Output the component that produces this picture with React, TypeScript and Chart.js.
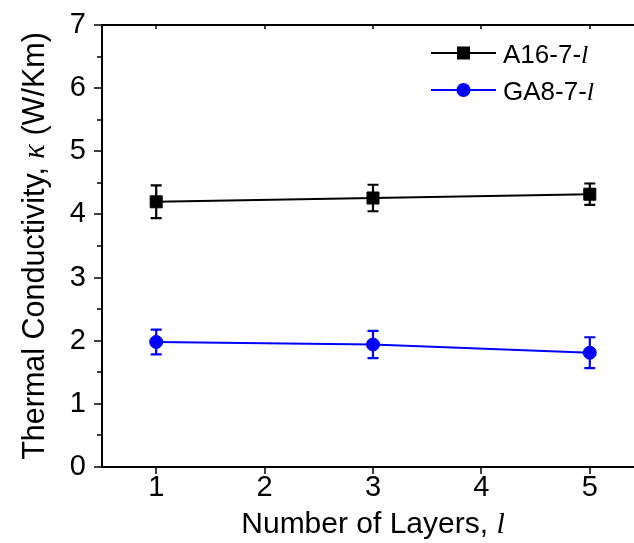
import { useEffect, useRef } from "react";
import { Chart, registerables } from "chart.js";

Chart.register(...registerables);

// Thermal conductivity (W/Km) versus number of layers
const layers = [1, 3, 5];
const a16Kappa = [4.2, 4.26, 4.32];
const a16Err = [0.26, 0.21, 0.17];
const ga8Kappa = [1.98, 1.94, 1.81];
const ga8Err = [0.195, 0.215, 0.245];

const xTickValues = [1, 2, 3, 4, 5];
const yTickValues = [0, 1, 2, 3, 4, 5, 6, 7];
const yMinorTickValues = [0.5, 1.5, 2.5, 3.5, 4.5, 5.5, 6.5];

const SANS = "Arial, 'Liberation Sans', sans-serif";
const SERIF = "'Times New Roman', 'Liberation Serif', serif";

type Run = { text: string; font: string };

function drawRuns(ctx: CanvasRenderingContext2D, runs: Run[], cx: number, y: number) {
  let total = 0;
  const widths = runs.map((r) => {
    ctx.font = r.font;
    const w = ctx.measureText(r.text).width;
    total += w;
    return w;
  });
  let x = cx - total / 2;
  ctx.textAlign = "left";
  runs.forEach((r, i) => {
    ctx.font = r.font;
    ctx.fillText(r.text, x, y);
    x += widths[i];
  });
}

function drawRunsLeft(ctx: CanvasRenderingContext2D, runs: Run[], x: number, y: number) {
  ctx.textAlign = "left";
  runs.forEach((r) => {
    ctx.font = r.font;
    ctx.fillText(r.text, x, y);
    x += ctx.measureText(r.text).width;
  });
}

const errorBarPlugin = {
  id: "errorBars",
  beforeDatasetDraw(chart: any, args: any) {
    const ds = chart.data.datasets[args.index];
    const errs: number[] | undefined = ds.errors;
    if (!errs) return;
    const { ctx, scales } = chart;
    const xs = scales.x;
    const ys = scales.y;
    ctx.save();
    ctx.strokeStyle = ds.borderColor;
    ctx.lineWidth = 2.2;
    ds.data.forEach((p: { x: number; y: number }, i: number) => {
      const px = xs.getPixelForValue(p.x);
      const top = ys.getPixelForValue(p.y + errs[i]);
      const bot = ys.getPixelForValue(p.y - errs[i]);
      ctx.beginPath();
      ctx.moveTo(px, top);
      ctx.lineTo(px, bot);
      ctx.moveTo(px - 5.5, top);
      ctx.lineTo(px + 5.5, top);
      ctx.moveTo(px - 5.5, bot);
      ctx.lineTo(px + 5.5, bot);
      ctx.stroke();
    });
    ctx.restore();
  },
};

const framePlugin = {
  id: "frame",
  afterDraw(chart: any) {
    const { ctx, chartArea: a, scales } = chart;
    const xs = scales.x;
    const ys = scales.y;
    ctx.save();
    ctx.strokeStyle = "#000";
    ctx.lineWidth = 2;
    ctx.beginPath();
    ctx.rect(a.left, a.top, a.right - a.left, a.bottom - a.top);
    ctx.stroke();
    ctx.lineWidth = 1.5;
    ctx.beginPath();
    yTickValues.forEach((v) => {
      const py = Math.round(ys.getPixelForValue(v));
      ctx.moveTo(a.left - 8, py);
      ctx.lineTo(a.left, py);
      ctx.moveTo(a.right, py);
      ctx.lineTo(a.right - 4, py);
    });
    yMinorTickValues.forEach((v) => {
      const py = Math.round(ys.getPixelForValue(v));
      ctx.moveTo(a.left - 5, py);
      ctx.lineTo(a.left, py);
    });
    xTickValues.forEach((v) => {
      const px = Math.round(xs.getPixelForValue(v));
      ctx.moveTo(px, a.bottom);
      ctx.lineTo(px, a.bottom + 7);
      ctx.moveTo(px, a.top);
      ctx.lineTo(px, a.top + 4);
    });
    ctx.stroke();
    ctx.restore();
  },
};

const titlesPlugin = {
  id: "titlesAndLegend",
  afterDraw(chart: any) {
    const { ctx, chartArea: a } = chart;
    ctx.save();
    ctx.fillStyle = "#000";
    ctx.textBaseline = "alphabetic";

    // x-axis title
    drawRuns(
      ctx,
      [
        { text: "Number of Layers, ", font: `30px ${SANS}` },
        { text: "l", font: `italic 30px ${SERIF}` },
      ],
      (a.left + a.right) / 2,
      533
    );

    // y-axis title
    ctx.save();
    ctx.translate(44, (a.top + a.bottom) / 2);
    ctx.rotate(-Math.PI / 2);
    drawRuns(
      ctx,
      [
        { text: "Thermal Conductivity, ", font: `30.5px ${SANS}` },
        { text: "\u03BA", font: `italic 30.5px ${SERIF}` },
        { text: " (W/Km)", font: `30.5px ${SANS}` },
      ],
      0,
      0
    );
    ctx.restore();

    // legend
    const rows = [
      { ds: chart.data.datasets[0], y: a.top + 28, name: "A16-7-" },
      { ds: chart.data.datasets[1], y: a.top + 65, name: "GA8-7-" },
    ];
    rows.forEach((r) => {
      ctx.strokeStyle = r.ds.borderColor;
      ctx.fillStyle = r.ds.borderColor;
      ctx.lineWidth = 2;
      ctx.beginPath();
      ctx.moveTo(431, r.y);
      ctx.lineTo(496, r.y);
      ctx.stroke();
      if (r.ds.pointStyle === "rect") {
        ctx.fillRect(457, r.y - 6.5, 13, 13);
      } else {
        ctx.beginPath();
        ctx.arc(463.5, r.y, 7, 0, Math.PI * 2);
        ctx.fill();
      }
      ctx.fillStyle = "#000";
      drawRunsLeft(
        ctx,
        [
          { text: r.name, font: `26px ${SANS}` },
          { text: "l", font: `italic 26px ${SERIF}` },
        ],
        503,
        r.y + 9.5
      );
    });
    ctx.restore();
  },
};

export default function App() {
  const canvasRef = useRef<HTMLCanvasElement | null>(null);

  useEffect(() => {
    const canvas = canvasRef.current;
    if (!canvas) return;
    const chart = new Chart(canvas, {
      type: "line",
      data: {
        datasets: [
          {
            label: "A16-7-l",
            data: layers.map((x, i) => ({ x, y: a16Kappa[i] })),
            errors: a16Err,
            borderColor: "#000000",
            backgroundColor: "#000000",
            borderWidth: 2,
            pointStyle: "rect",
            pointRadius: 8.5,
            pointBorderWidth: 1,
            pointBackgroundColor: "#000000",
            pointBorderColor: "#000000",
          } as any,
          {
            label: "GA8-7-l",
            data: layers.map((x, i) => ({ x, y: ga8Kappa[i] })),
            errors: ga8Err,
            borderColor: "#0000FF",
            backgroundColor: "#0000FF",
            borderWidth: 2,
            pointStyle: "circle",
            pointRadius: 6.5,
            pointBorderWidth: 1,
            pointBackgroundColor: "#0000FF",
            pointBorderColor: "#0000FF",
          } as any,
        ],
      },
      options: {
        responsive: false,
        animation: false,
        devicePixelRatio: 1,
        layout: { padding: { top: 25, right: 16, left: 0, bottom: 0 } },
        plugins: {
          legend: { display: false },
          tooltip: { enabled: false },
        },
        scales: {
          x: {
            type: "linear",
            min: 0.5,
            max: 5.5,
            afterBuildTicks: (axis: any) => {
              axis.ticks = xTickValues.map((v) => ({ value: v }));
            },
            afterFit: (axis: any) => {
              axis.height = 76;
              axis.paddingLeft = 0;
              axis.paddingRight = 0;
            },
            grid: { display: false, drawTicks: false },
            border: { display: false },
            ticks: {
              autoSkip: false,
              maxRotation: 0,
              padding: 4,
              color: "#000",
              font: { family: SANS, size: 29 },
              callback: (v: any) => String(v),
            },
          },
          y: {
            type: "linear",
            min: 0,
            max: 7,
            afterBuildTicks: (axis: any) => {
              axis.ticks = yTickValues.map((v) => ({ value: v }));
            },
            afterFit: (axis: any) => {
              axis.width = 102;
              axis.paddingTop = 0;
              axis.paddingBottom = 0;
            },
            grid: { display: false, drawTicks: false },
            border: { display: false },
            ticks: {
              autoSkip: false,
              padding: 16,
              color: "#000",
              font: { family: SANS, size: 29 },
              callback: (v: any) => String(v),
            },
          },
        },
      },
      plugins: [errorBarPlugin, framePlugin, titlesPlugin],
    } as any);
    return () => chart.destroy();
  }, []);

  return (
    <div
      style={{
        position: "fixed",
        left: 0,
        top: 0,
        width: 634,
        height: 543,
        overflow: "hidden",
        background: "#fff",
      }}
    >
      <canvas ref={canvasRef} width={660} height={543} style={{ display: "block" }} />
    </div>
  );
}
